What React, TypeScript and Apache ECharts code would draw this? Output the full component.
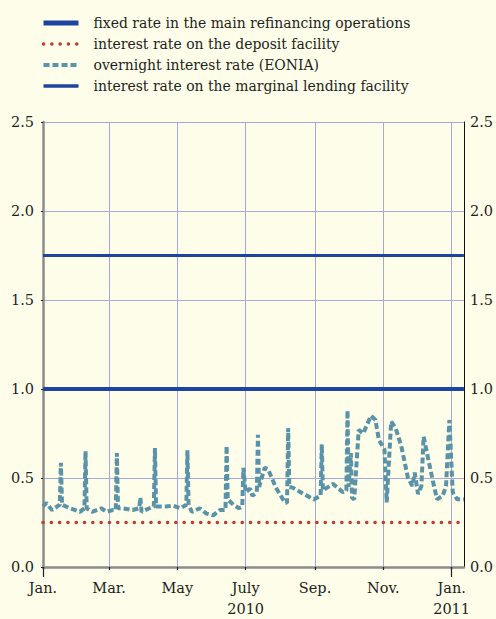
import React, { useEffect, useRef } from "react";
import * as echarts from "echarts";

const tickDates = ["2010-01-01", "2010-03-01", "2010-05-01", "2010-07-01", "2010-09-01", "2010-11-01", "2011-01-01"];
const tickLabels = ["Jan.", "Mar.", "May", "July\n2010", "Sep.", "Nov.", "Jan.\n2011"];
const yearTickDates = ["2010-01-01", "2011-01-01"];
const firstDay = "2010-01-01";
const lastDay = "2011-01-12";

const refiRate = [1.0, 1.0];
const depositRate = [0.25, 0.25];
const marginalRate = [1.75, 1.75];

const eoniaDates = [
  "2010-01-01", "2010-01-04", "2010-01-09", "2010-01-16", "2010-01-17", "2010-01-18", "2010-01-25",
  "2010-02-03", "2010-02-07", "2010-02-08", "2010-02-09", "2010-02-14", "2010-02-22", "2010-02-27",
  "2010-03-04", "2010-03-07", "2010-03-08", "2010-03-09", "2010-03-13", "2010-03-22", "2010-03-28",
  "2010-03-29", "2010-03-30", "2010-04-06", "2010-04-10", "2010-04-11", "2010-04-12", "2010-04-21",
  "2010-04-27", "2010-05-04", "2010-05-09", "2010-05-10", "2010-05-11", "2010-05-14", "2010-05-21",
  "2010-05-27", "2010-06-02", "2010-06-08", "2010-06-13", "2010-06-14", "2010-06-15", "2010-06-20",
  "2010-06-25", "2010-06-28", "2010-06-29", "2010-07-01", "2010-07-05", "2010-07-07", "2010-07-11",
  "2010-07-12", "2010-07-13", "2010-07-18", "2010-07-21", "2010-07-28", "2010-08-05", "2010-08-07",
  "2010-08-08", "2010-08-09", "2010-08-12", "2010-08-22", "2010-08-31", "2010-09-06", "2010-09-07",
  "2010-09-08", "2010-09-17", "2010-09-26", "2010-09-29", "2010-09-30", "2010-10-01", "2010-10-03",
  "2010-10-04", "2010-10-06", "2010-10-10", "2010-10-14", "2010-10-21", "2010-10-25", "2010-10-28",
  "2010-11-02", "2010-11-04", "2010-11-08", "2010-11-12", "2010-11-17", "2010-11-23", "2010-11-27",
  "2010-11-29", "2010-12-02", "2010-12-05", "2010-12-07", "2010-12-11", "2010-12-15", "2010-12-19",
  "2010-12-24", "2010-12-27", "2010-12-30", "2011-01-02", "2011-01-06", "2011-01-12",
];
const eoniaValues = [
  0.34, 0.36, 0.32, 0.35, 0.585, 0.35, 0.33,
  0.31, 0.33, 0.65, 0.33, 0.31, 0.33, 0.31,
  0.32, 0.32, 0.64, 0.33, 0.33, 0.32, 0.33,
  0.39, 0.31, 0.33, 0.34, 0.668, 0.34, 0.34,
  0.345, 0.33, 0.35, 0.655, 0.35, 0.31, 0.33,
  0.3, 0.29, 0.32, 0.32, 0.68, 0.38, 0.35,
  0.33, 0.34, 0.557, 0.42, 0.44, 0.4, 0.42,
  0.743, 0.45, 0.557, 0.55, 0.446, 0.363, 0.36,
  0.78, 0.45, 0.446, 0.41, 0.38, 0.4, 0.69,
  0.43, 0.467, 0.42, 0.43, 0.88, 0.45, 0.64,
  0.39, 0.38, 0.77, 0.75, 0.85, 0.826, 0.715,
  0.66, 0.363, 0.817, 0.78, 0.68, 0.5, 0.455,
  0.53, 0.41, 0.455, 0.733, 0.61, 0.49, 0.38,
  0.4, 0.455, 0.826, 0.42, 0.38, 0.38,
];

const seriesNames = [
  "fixed rate in the main refinancing operations",
  "interest rate on the deposit facility",
  "overnight interest rate (EONIA)",
  "interest rate on the marginal lending facility",
];

function buildDays(start: string, end: string): string[] {
  const out: string[] = [];
  const d = new Date(start + "T00:00:00Z");
  const e = new Date(end + "T00:00:00Z");
  while (d.getTime() <= e.getTime()) {
    out.push(d.toISOString().slice(0, 10));
    d.setUTCDate(d.getUTCDate() + 1);
  }
  return out;
}

const FONT = "DejaVu Serif";
const FONT_COND = "DejaVu Serif Condensed";
const TEXT = "#231f20";
const BLUE = "#1d45a0";
const RED = "#c23a2a";
const TEAL = "#5a93a8";
const GRID = "#a3a8de";

export default function App() {
  const ref = useRef<HTMLDivElement>(null);
  useEffect(() => {
    if (!ref.current) return;
    const chart = echarts.init(ref.current, undefined, { renderer: "svg" });
    const days = buildDays(firstDay, lastDay);
    const tickSet = new Set(tickDates);
    const yearSet = new Set(yearTickDates);
    const isTick = (_i: number, v: string) => tickSet.has(v);
    const isYear = (_i: number, v: string) => yearSet.has(v);
    const ends = [firstDay, lastDay];

    chart.setOption({
      animation: false,
      backgroundColor: "#fdfdea",
      textStyle: { fontFamily: FONT },
      legend: {
        orient: "vertical",
        left: 41,
        top: 15,
        padding: 0,
        itemWidth: 35,
        itemHeight: 14,
        itemGap: 5,
        selectedMode: false,
        itemStyle: { opacity: 0 },
        textStyle: { fontFamily: FONT_COND, fontSize: 15.5, color: TEXT, padding: [0, 0, 0, 10] },
        data: [
          { name: seriesNames[0], lineStyle: { width: 5 } },
          { name: seriesNames[1], lineStyle: { width: 3.5 } },
          { name: seriesNames[2], lineStyle: { width: 4 } },
          { name: seriesNames[3], lineStyle: { width: 3.5 } },
        ],
      },
      grid: { left: 43, right: 30, top: 122, bottom: 46, containLabel: false },
      xAxis: [
        {
          type: "category",
          data: days,
          boundaryGap: false,
          position: "bottom",
          axisLine: { show: true, lineStyle: { color: "#8c8c8c", width: 2.5 } },
          axisTick: { show: true, interval: isTick, length: 3, lineStyle: { color: "#222", width: 1.2 } },
          axisLabel: {
            interval: isTick,
            formatter: (v: string) => tickLabels[tickDates.indexOf(v)] ?? "",
            fontFamily: FONT,
            fontSize: 14.5,
            lineHeight: 21,
            color: TEXT,
            margin: 10,
          },
          splitLine: { show: true, interval: isTick, lineStyle: { color: GRID, width: 1 } },
        },
        {
          type: "category",
          data: days,
          boundaryGap: false,
          position: "bottom",
          axisLine: { show: false },
          axisTick: { show: true, interval: isYear, length: 10, lineStyle: { color: "#222", width: 1.2 } },
          axisLabel: { show: false },
          splitLine: { show: false },
        },
      ],
      yAxis: [
        {
          type: "value",
          position: "left",
          min: 0,
          max: 2.5,
          interval: 0.5,
          axisLine: { show: true, lineStyle: { color: "#8c8c8c", width: 2.5 } },
          axisTick: { show: true, length: 2, lineStyle: { color: "#222" } },
          axisLabel: {
            formatter: (v: number) => v.toFixed(1),
            fontFamily: FONT,
            fontSize: 14.5,
            color: TEXT,
            margin: 9,
          },
          splitLine: { show: true, lineStyle: { color: GRID, width: 1 } },
        },
        {
          type: "value",
          position: "right",
          min: 0,
          max: 2.5,
          interval: 0.5,
          axisLine: { show: true, lineStyle: { color: "#111", width: 1 } },
          axisTick: { show: false },
          axisLabel: {
            formatter: (v: number) => v.toFixed(1),
            fontFamily: FONT,
            fontSize: 14.5,
            color: TEXT,
            margin: 6,
          },
          splitLine: { show: false },
        },
      ],
      series: [
        {
          name: seriesNames[0],
          type: "line",
          symbol: "none",
          z: 4,
          data: ends.map((d, i) => [d, refiRate[i]]),
          lineStyle: { color: BLUE, width: 4 },
          itemStyle: { color: BLUE },
        },
        {
          name: seriesNames[1],
          type: "line",
          symbol: "none",
          z: 3,
          data: ends.map((d, i) => [d, depositRate[i]]),
          lineStyle: { color: RED, width: 3.5, type: [0.1, 8.2], cap: "round" },
          itemStyle: { color: RED },
        },
        {
          name: seriesNames[2],
          type: "line",
          symbol: "none",
          z: 5,
          data: eoniaDates.map((d, i) => [d, eoniaValues[i]]),
          lineStyle: { color: TEAL, width: 4, type: [6, 3] },
          itemStyle: { color: TEAL },
        },
        {
          name: seriesNames[3],
          type: "line",
          symbol: "none",
          z: 4,
          data: ends.map((d, i) => [d, marginalRate[i]]),
          lineStyle: { color: BLUE, width: 3 },
          itemStyle: { color: BLUE },
        },
      ],
    });
    return () => chart.dispose();
  }, []);
  return (
    <div
      ref={ref}
      style={{ position: "absolute", left: 0, top: 0, width: 496, height: 619 }}
    />
  );
}
